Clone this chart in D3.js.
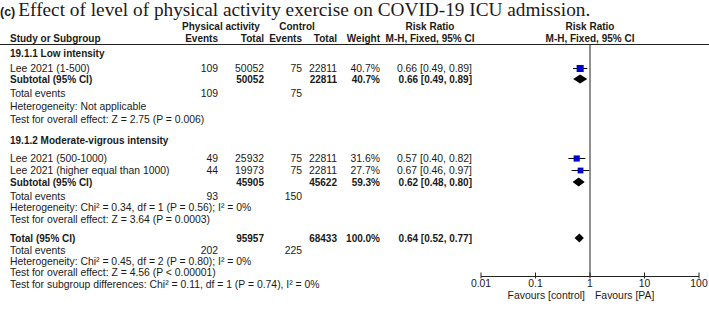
<!DOCTYPE html>
<html lang="en">
<head>
<meta charset="UTF-8">
<title>Forest plot - ICU admission</title>
<script src="https://d3js.org/d3.v7.min.js"></script>
<style>
  body { margin: 0; background: #fff; }
  svg text { font-family: Arial, "Liberation Sans", sans-serif; font-size: 10.4px; fill: #1a1a1a; }
  svg text.b { font-weight: bold; font-size: 10px; }
</style>
</head>
<body>
<svg id="chart" width="709" height="309"></svg>
<script>
// study level data
const studyNames = ["Lee 2021 (1-500)", "Lee 2021 (500-1000)", "Lee 2021 (higher equal than 1000)"];
const studyGroup = [0, 1, 1];
const paEvents = [109, 49, 44];
const paTotal = [50052, 25932, 19973];
const ctrlEvents = [75, 75, 75];
const ctrlTotal = [22811, 22811, 22811];
const weights = [40.7, 31.6, 27.7];
const rr = [0.66, 0.57, 0.67];
const ciLow = [0.49, 0.40, 0.46];
const ciHigh = [0.89, 0.82, 0.97];

// subgroup pooled results
const groupTitles = ["19.1.1 Low intensity", "19.1.2 Moderate-vigrous intensity"];
const groupPaTotal = [50052, 45905];
const groupCtrlTotal = [22811, 45622];
const groupPaEvents = [109, 93];
const groupCtrlEvents = [75, 150];
const groupWeight = [40.7, 59.3];
const groupRR = [0.66, 0.62];
const groupLow = [0.49, 0.48];
const groupHigh = [0.89, 0.80];
const groupHet = ["Heterogeneity: Not applicable", "Heterogeneity: Chi\u00b2 = 0.34, df = 1 (P = 0.56); I\u00b2 = 0%"];
const groupTest = ["Test for overall effect: Z = 2.75 (P = 0.006)", "Test for overall effect: Z = 3.64 (P = 0.0003)"];

// overall
const total = { paTotal: 95957, ctrlTotal: 68433, paEvents: 202, ctrlEvents: 225, weight: 100.0, rr: 0.64, lo: 0.52, hi: 0.77 };
const totalNotes = [
  "Heterogeneity: Chi\u00b2 = 0.45, df = 2 (P = 0.80); I\u00b2 = 0%",
  "Test for overall effect: Z = 4.56 (P < 0.00001)",
  "Test for subgroup differences: Chi\u00b2 = 0.11, df = 1 (P = 0.74), I\u00b2 = 0%"
];

const axisTicks = [0.01, 0.1, 1, 10, 100];
const axisLabels = ["0.01", "0.1", "1", "10", "100"];

const svg = d3.select("#chart");
const x = d3.scaleLog().domain([0.01, 100]).range([481, 699]);

// column right edges
const col = { name: 10, paEv: 218, paTot: 264, cEv: 302, cTot: 337, w: 380, ci: 472 };
const fmt2 = d3.format(".2f");
const ciText = (a, l, h) => `${fmt2(a)} [${fmt2(l)}, ${fmt2(h)}]`;

function txt(xp, y, s, opts = {}) {
  return svg.append("text")
    .attr("x", xp).attr("y", y).attr("dy", "0.35em")
    .attr("text-anchor", opts.anchor || "start")
    .attr("class", opts.bold ? "b" : null)
    .text(s);
}

// title
const title = svg.append("text").attr("x", 0).attr("y", 16);
title.append("tspan").style("font-family", "Arial, 'Liberation Sans', sans-serif")
  .style("font-size", "12.5px").style("font-weight", "bold").text("(c)");
title.append("tspan").attr("dx", 3).style("font-family", "'Times New Roman', 'Liberation Serif', serif")
  .style("font-size", "19.3px").text("Effect of level of physical activity exercise on COVID-19 ICU admission.");

// headers
txt(221, 26, "Physical activity", { anchor: "middle", bold: true });
txt(297, 26, "Control", { anchor: "middle", bold: true });
txt(430, 26, "Risk Ratio", { anchor: "middle", bold: true });
txt(590, 26, "Risk Ratio", { anchor: "middle", bold: true });
txt(col.name, 38.5, "Study or Subgroup", { bold: true });
txt(col.paEv, 38.5, "Events", { anchor: "end", bold: true });
txt(col.paTot, 38.5, "Total", { anchor: "end", bold: true });
txt(col.cEv, 38.5, "Events", { anchor: "end", bold: true });
txt(col.cTot, 38.5, "Total", { anchor: "end", bold: true });
txt(col.w, 38.5, "Weight", { anchor: "end", bold: true });
txt(430, 38.5, "M-H, Fixed, 95% CI", { anchor: "middle", bold: true });
txt(590, 38.5, "M-H, Fixed, 95% CI", { anchor: "middle", bold: true });

svg.append("line").attr("x1", 0).attr("x2", 709).attr("y1", 44.5).attr("y2", 44.5)
  .attr("stroke", "#222").attr("stroke-width", 1);

// vertical line of no effect
svg.append("line").attr("x1", x(1)).attr("x2", x(1)).attr("y1", 44).attr("y2", 276)
  .attr("stroke", "#222").attr("stroke-width", 1);

function diamond(y, a, l, h) {
  const hh = 4.5;
  svg.append("path")
    .attr("d", `M${x(l)},${y}L${x(a)},${y - hh}L${x(h)},${y}L${x(a)},${y + hh}Z`)
    .attr("fill", "#000");
}

function study(i, y) {
  txt(col.name, y, studyNames[i]);
  txt(col.paEv, y, paEvents[i], { anchor: "end" });
  txt(col.paTot, y, paTotal[i], { anchor: "end" });
  txt(col.cEv, y, ctrlEvents[i], { anchor: "end" });
  txt(col.cTot, y, ctrlTotal[i], { anchor: "end" });
  txt(col.w, y, weights[i].toFixed(1) + "%", { anchor: "end" });
  txt(col.ci, y, ciText(rr[i], ciLow[i], ciHigh[i]), { anchor: "end" });
  svg.append("line").attr("x1", x(ciLow[i])).attr("x2", x(ciHigh[i]))
    .attr("y1", y + 0.5).attr("y2", y + 0.5).attr("stroke", "#000");
  const s = 3 + weights[i] * 0.1;
  svg.append("rect").attr("x", x(rr[i]) - s / 2).attr("y", y - s / 2 + 0.5)
    .attr("width", s).attr("height", s).attr("fill", "#0000cc");
}

// row layout per subgroup: title, studies, subtotal, events, het, test
const groupRows = [
  { title: 53, studies: [68], sub: 79, ev: 93, het: 106, test: 119 },
  { title: 140, studies: [158, 170], sub: 182, ev: 196, het: 207.5, test: 219 }
];

groupTitles.forEach((g, gi) => {
  const r = groupRows[gi];
  txt(col.name, r.title, g, { bold: true });
  studyNames.map((_, i) => i).filter(i => studyGroup[i] === gi)
    .forEach((i, k) => study(i, r.studies[k]));
  txt(col.name, r.sub, "Subtotal (95% CI)", { bold: true });
  txt(col.paTot, r.sub, groupPaTotal[gi], { anchor: "end", bold: true });
  txt(col.cTot, r.sub, groupCtrlTotal[gi], { anchor: "end", bold: true });
  txt(col.w, r.sub, groupWeight[gi].toFixed(1) + "%", { anchor: "end", bold: true });
  txt(col.ci, r.sub, ciText(groupRR[gi], groupLow[gi], groupHigh[gi]), { anchor: "end", bold: true });
  diamond(r.sub, groupRR[gi], groupLow[gi], groupHigh[gi]);
  txt(col.name, r.ev, "Total events");
  txt(col.paEv, r.ev, groupPaEvents[gi], { anchor: "end" });
  txt(col.cEv, r.ev, groupCtrlEvents[gi], { anchor: "end" });
  txt(col.name, r.het, groupHet[gi]);
  txt(col.name, r.test, groupTest[gi]);
});

// overall total
const ty = 238;
txt(col.name, ty, "Total (95% CI)", { bold: true });
txt(col.paTot, ty, total.paTotal, { anchor: "end", bold: true });
txt(col.cTot, ty, total.ctrlTotal, { anchor: "end", bold: true });
txt(col.w, ty, total.weight.toFixed(1) + "%", { anchor: "end", bold: true });
txt(col.ci, ty, ciText(total.rr, total.lo, total.hi), { anchor: "end", bold: true });
diamond(ty, total.rr, total.lo, total.hi);
txt(col.name, 250, "Total events");
txt(col.paEv, 250, total.paEvents, { anchor: "end" });
txt(col.cEv, 250, total.ctrlEvents, { anchor: "end" });
[261, 272.5, 284].forEach((y, i) => txt(col.name, y, totalNotes[i]));

// axis
const axisY = 276;
const ax = svg.append("g").attr("transform", `translate(0,${axisY})`);
ax.append("line").attr("x1", x(0.01)).attr("x2", x(100)).attr("y1", 0.5).attr("y2", 0.5).attr("stroke", "#222");
ax.selectAll("line.t").data(axisTicks).enter().append("line").attr("class", "t")
  .attr("x1", d => x(d)).attr("x2", d => x(d)).attr("y1", -3.5).attr("y2", 2.5).attr("stroke", "#222");
ax.selectAll("text").data(axisTicks).enter().append("text")
  .attr("x", d => x(d)).attr("y", 7).attr("dy", "0.35em").attr("text-anchor", "middle")
  .text((d, i) => axisLabels[i]);
txt(x(1) - 5, 295, "Favours [control]", { anchor: "end" });
txt(x(1) + 5, 295, "Favours [PA]");
</script>
</body>
</html>
